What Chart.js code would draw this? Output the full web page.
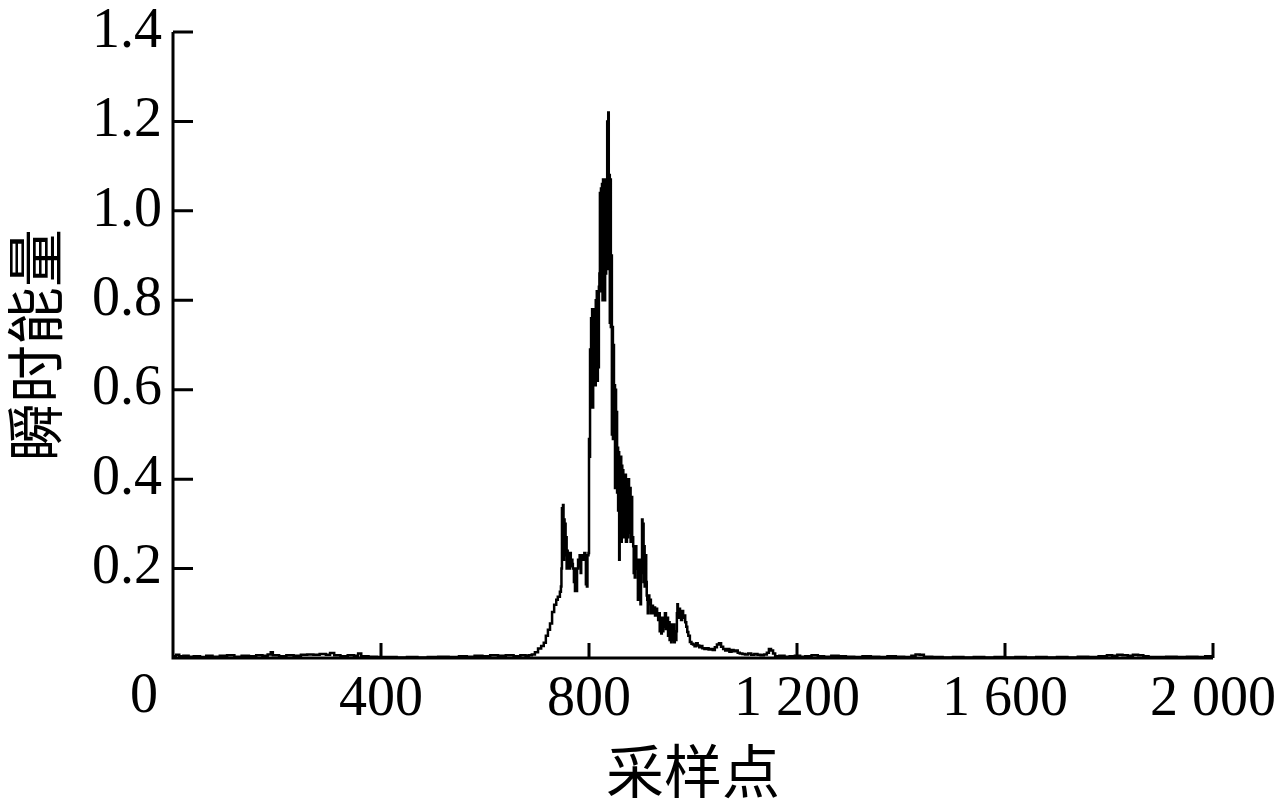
<!DOCTYPE html>
<html>
<head>
<meta charset="utf-8">
<script src="https://cdn.jsdelivr.net/npm/chart.js@4.4.0/dist/chart.umd.min.js"></script>
<style>
  html, body { margin: 0; padding: 0; background: #fff; }
</style>
</head>
<body>
<canvas id="energyChart" width="1281" height="808"></canvas>
<script>
// sample index / instantaneous energy
const baseLeftX = [0, 6, 12, 20, 30, 40, 52, 64, 76, 90,
  104, 118, 132, 146, 160, 172, 182, 188, 192, 204,
  218, 232, 246, 258, 270, 282, 294, 302, 310, 322,
  336, 348, 356, 362, 376, 392, 410, 430, 450, 470,
  490, 510, 530, 550, 565, 580, 595, 610, 625, 640,
  655, 668, 678];
const baseLeftY = [0.004, 0.007, 0.004, 0.005, 0.003, 0.004, 0.002, 0.005, 0.003, 0.005,
  0.006, 0.003, 0.005, 0.004, 0.006, 0.005, 0.008, 0.013, 0.006, 0.004,
  0.006, 0.005, 0.007, 0.008, 0.007, 0.009, 0.007, 0.011, 0.006, 0.004,
  0.006, 0.005, 0.010, 0.004, 0.003, 0.002, 0.002, 0.001, 0.002, 0.001,
  0.002, 0.003, 0.002, 0.004, 0.003, 0.005, 0.004, 0.006, 0.005, 0.006,
  0.004, 0.006, 0.005];

const peakX = [684, 690, 696, 702, 708, 713, 717, 721, 725, 729,
  733, 737, 740, 744, 746, 747, 748, 749, 750, 751,
  752, 753, 754, 755, 756, 757, 758, 759, 760, 762,
  763, 765, 766, 768, 769, 771, 772, 773, 774, 776,
  777, 779, 781, 782, 784, 785, 787, 789, 791, 793,
  794, 795, 796, 797, 799, 800, 801, 802, 803, 804,
  805, 806, 807, 808, 809, 810, 812, 813, 814, 815,
  816, 817, 818, 819, 820, 821, 822, 823, 824, 825,
  826, 827, 828, 829, 830, 831, 832, 833, 834, 835,
  836, 837, 838, 839, 840, 841, 842, 843, 844, 845,
  846, 847, 848, 849, 850, 851, 852, 853, 854, 855,
  856, 857, 858, 859, 860, 861, 862, 863, 864, 865,
  866, 867, 868, 869, 871, 873, 874, 875, 877, 879,
  880, 881, 883, 885, 886, 887, 888, 889, 891, 892,
  894, 895, 896, 897, 899, 900, 901, 902, 903, 904,
  905, 906, 907, 908, 910, 911, 912, 913, 914, 916,
  917, 919];
const peakY = [0.006, 0.008, 0.013, 0.021, 0.027, 0.034, 0.050, 0.063, 0.077, 0.103,
  0.119, 0.130, 0.137, 0.148, 0.160, 0.200, 0.335, 0.260, 0.342, 0.220,
  0.310, 0.240, 0.300, 0.230, 0.270, 0.200, 0.240, 0.210, 0.230, 0.200,
  0.235, 0.205, 0.220, 0.210, 0.200, 0.170, 0.200, 0.150, 0.190, 0.150,
  0.200, 0.220, 0.205, 0.230, 0.190, 0.225, 0.230, 0.220, 0.235, 0.220,
  0.165, 0.200, 0.160, 0.230, 0.235, 0.490, 0.450, 0.690, 0.560, 0.760,
  0.600, 0.780, 0.560, 0.770, 0.620, 0.780, 0.610, 0.800, 0.640, 0.820,
  0.620, 0.810, 0.650, 0.830, 0.860, 1.040, 0.820, 1.050, 0.870, 1.060,
  0.800, 1.070, 0.840, 1.060, 0.800, 1.070, 0.860, 1.000, 0.900, 1.200,
  0.870, 1.220, 0.900, 1.080, 0.750, 1.070, 0.740, 0.900, 0.500, 0.740,
  0.490, 0.700, 0.550, 0.610, 0.380, 0.600, 0.400, 0.550, 0.370, 0.470,
  0.330, 0.460, 0.220, 0.440, 0.300, 0.450, 0.260, 0.430, 0.280, 0.420,
  0.270, 0.400, 0.300, 0.410, 0.260, 0.390, 0.270, 0.400, 0.280, 0.380,
  0.260, 0.360, 0.270, 0.250, 0.190, 0.240, 0.180, 0.250, 0.200, 0.220,
  0.130, 0.210, 0.150, 0.220, 0.120, 0.190, 0.200, 0.310, 0.220, 0.300,
  0.170, 0.250, 0.160, 0.230, 0.170, 0.140, 0.130, 0.100, 0.140, 0.120,
  0.130, 0.100];

const tailX = [921, 923, 925, 927, 929, 931, 933, 934, 936, 937,
  939, 940, 942, 943, 945, 946, 948, 950, 952, 953,
  955, 956, 958, 959, 961, 962, 964, 965, 967, 968,
  969, 970, 971, 972, 973, 975, 977, 979, 981, 983,
  985, 987, 989, 991, 994, 997, 1000, 1003, 1006, 1009,
  1012, 1015, 1018, 1022, 1026, 1030, 1034, 1038, 1042, 1046,
  1050, 1054, 1058, 1062, 1066, 1070, 1074, 1078, 1082, 1086,
  1090, 1095, 1100, 1106, 1112, 1118, 1124, 1130, 1136, 1142,
  1146, 1150, 1154, 1158, 1166, 1176, 1186, 1196];
const tailY = [0.117, 0.100, 0.113, 0.095, 0.110, 0.098, 0.085, 0.100, 0.060, 0.090,
  0.055, 0.085, 0.060, 0.090, 0.070, 0.100, 0.065, 0.090, 0.050, 0.080,
  0.040, 0.075, 0.035, 0.070, 0.040, 0.075, 0.035, 0.060, 0.040, 0.060,
  0.100, 0.120, 0.110, 0.090, 0.110, 0.100, 0.085, 0.105, 0.090, 0.095,
  0.080, 0.070, 0.058, 0.050, 0.036, 0.032, 0.030, 0.026, 0.033, 0.028,
  0.024, 0.027, 0.022, 0.020, 0.022, 0.019, 0.020, 0.018, 0.024, 0.030,
  0.033, 0.025, 0.020, 0.017, 0.020, 0.014, 0.018, 0.015, 0.017, 0.012,
  0.010, 0.009, 0.008, 0.010, 0.007, 0.009, 0.007, 0.006, 0.008, 0.012,
  0.020, 0.017, 0.010, 0.004, 0.005, 0.003, 0.004, 0.005];

const baseRightX = [1206, 1216, 1228, 1240, 1252, 1266, 1280, 1294, 1310, 1326,
  1342, 1358, 1374, 1390, 1406, 1420, 1428, 1436, 1444, 1460,
  1480, 1500, 1520, 1540, 1560, 1580, 1600, 1620, 1640, 1660,
  1680, 1700, 1720, 1740, 1760, 1780, 1796, 1806, 1816, 1826,
  1836, 1846, 1856, 1866, 1876, 1890, 1910, 1930, 1950, 1970,
  1985, 2000];
const baseRightY = [0.003, 0.004, 0.006, 0.004, 0.003, 0.005, 0.004, 0.003, 0.002, 0.004,
  0.003, 0.002, 0.004, 0.003, 0.002, 0.005, 0.008, 0.007, 0.003, 0.002,
  0.001, 0.002, 0.001, 0.002, 0.001, 0.002, 0.001, 0.002, 0.001, 0.002,
  0.001, 0.002, 0.001, 0.003, 0.002, 0.004, 0.006, 0.005, 0.007, 0.006,
  0.005, 0.007, 0.006, 0.004, 0.002, 0.002, 0.003, 0.002, 0.003, 0.002,
  0.004, 0.003];

const xTicks = [0, 400, 800, 1200, 1600, 2000];
const yTicks = [0.2, 0.4, 0.6, 0.8, 1.0, 1.2, 1.4];
const xTitle = "采样点";
const yTitle = "瞬时能量";

const allX = baseLeftX.concat(peakX, tailX, baseRightX);
const allY = baseLeftY.concat(peakY, tailY, baseRightY);
const points = allX.map((x, i) => ({ x: x, y: allY[i] }));

const tickFont = { family: "'Liberation Serif', 'Times New Roman', serif", size: 56 };
const cjkFont = { family: "'Noto Sans CJK SC', sans-serif", size: 58 };

function fmtThousands(v) {
  const s = String(v);
  return v >= 1000 ? s.slice(0, s.length - 3) + " " + s.slice(-3) : s;
}

// axis lines, inward tick marks and the lone "0" at the origin
const axisMarks = {
  id: "axisMarks",
  afterDraw(chart) {
    const { ctx, chartArea } = chart;
    const xs = chart.scales.x, ys = chart.scales.y;
    ctx.save();
    ctx.strokeStyle = "#000";
    ctx.lineWidth = 3;
    ctx.beginPath();
    ctx.moveTo(chartArea.left, chartArea.top);
    ctx.lineTo(chartArea.left, chartArea.bottom);
    ctx.lineTo(chartArea.right, chartArea.bottom);
    for (const v of yTicks) {
      const py = ys.getPixelForValue(v);
      ctx.moveTo(chartArea.left, py);
      ctx.lineTo(chartArea.left + 20, py);
    }
    for (const v of xTicks) {
      if (v === 0) continue;
      const px = xs.getPixelForValue(v);
      ctx.moveTo(px, chartArea.bottom);
      ctx.lineTo(px, chartArea.bottom - 15);
    }
    ctx.stroke();
    ctx.fillStyle = "#000";
    ctx.font = tickFont.size + "px " + tickFont.family;
    ctx.textAlign = "center";
    ctx.textBaseline = "top";
    ctx.fillText("0", chartArea.left - 29, chartArea.bottom + 11);
    ctx.restore();
  }
};

new Chart(document.getElementById("energyChart"), {
  type: "line",
  data: {
    datasets: [{
      data: points,
      borderColor: "#000",
      borderWidth: 2.5,
      pointRadius: 0,
      stepped: true,
      fill: false
    }]
  },
  options: {
    responsive: false,
    animation: false,
    devicePixelRatio: 1,
    layout: { padding: { top: 32, right: 68, left: 0, bottom: 0 } },
    plugins: { legend: { display: false }, tooltip: { enabled: false } },
    scales: {
      x: {
        type: "linear",
        min: 0,
        max: 2000,
        grid: { display: false },
        border: { display: false },
        afterBuildTicks: (scale) => { scale.ticks = xTicks.map(v => ({ value: v })); },
        afterFit: (scale) => {
          scale.height = 150;
          scale.paddingLeft = 0;
          scale.paddingRight = 0;
        },
        ticks: {
          color: "#000",
          font: tickFont,
          padding: 1,
          maxRotation: 0,
          autoSkip: false,
          callback: (v) => v === 0 ? "" : fmtThousands(v)
        },
        title: {
          display: true,
          text: xTitle,
          color: "#000",
          font: cjkFont,
          padding: { top: 0, bottom: 2 }
        }
      },
      y: {
        min: 0,
        max: 1.4,
        grid: { display: false },
        border: { display: false },
        afterBuildTicks: (scale) => { scale.ticks = yTicks.map(v => ({ value: v })); },
        afterFit: (scale) => {
          scale.width = 173;
          scale.paddingTop = 0;
          scale.paddingBottom = 0;
        },
        ticks: {
          color: "#000",
          font: tickFont,
          padding: 3,
          autoSkip: false,
          callback: (v) => v.toFixed(1)
        },
        title: {
          display: true,
          text: yTitle,
          color: "#000",
          font: cjkFont,
          padding: { top: 0, bottom: 2 }
        }
      }
    }
  },
  plugins: [axisMarks]
});
</script>
</body>
</html>
